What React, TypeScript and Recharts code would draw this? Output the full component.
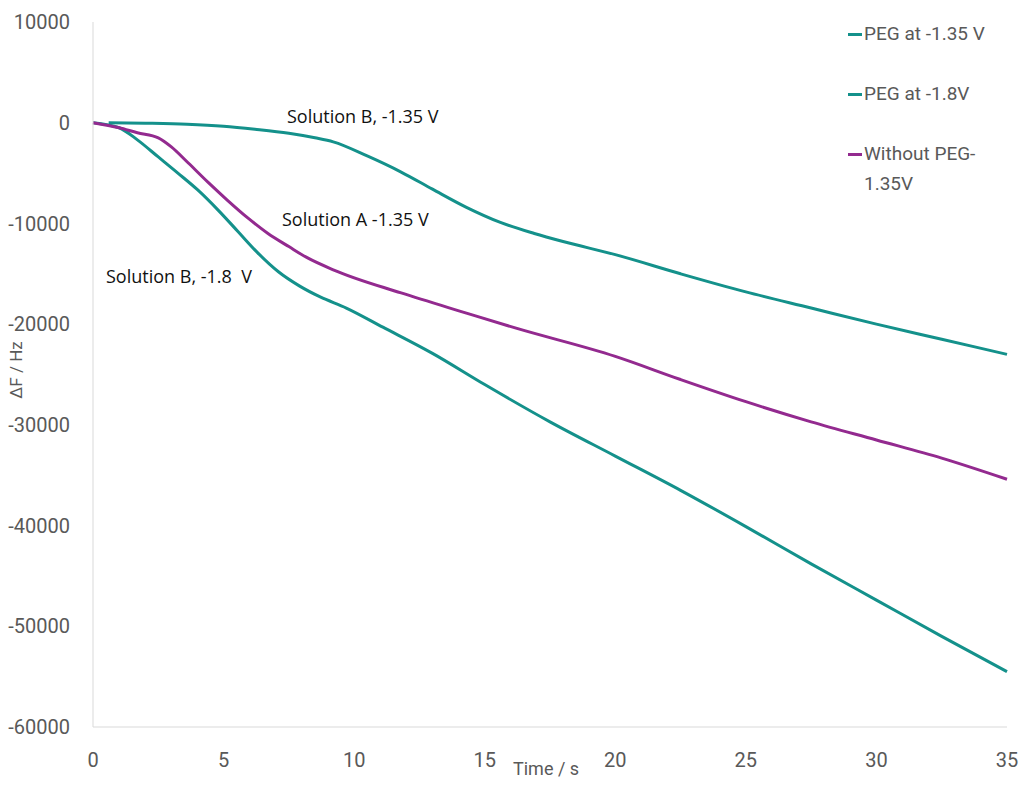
import { Line, LineChart, XAxis, YAxis } from 'recharts'

// Frequency shift vs. time, three deposition runs
const pegLowTime = [0.6, 2, 3.6, 5, 6.2, 7.5, 8.5, 9.2, 10.5, 11.8, 13, 14.3, 15.6, 16.9, 18, 20, 22.5, 25, 27.5, 30, 32.5, 35]
const pegLowShift = [0, -50, -150, -350, -650, -1050, -1500, -1900, -3300, -4900, -6600, -8400, -9900, -11000, -11800, -13100, -15000, -16800, -18400, -20000, -21500, -23000]

const pegHighTime = [0, 1, 1.7, 2.5, 3.25, 4, 4.8, 5.55, 6.3, 7.1, 7.9, 8.7, 9.7, 11.1, 13, 15, 17.5, 20, 22.5, 25, 27.5, 30, 32.5, 35]
const pegHighShift = [0, -500, -1700, -3400, -5000, -6650, -8700, -10800, -12900, -14800, -16200, -17300, -18400, -20300, -22900, -26000, -29700, -33100, -36500, -40100, -43800, -47400, -51000, -54500]

const noPegTime = [0, 1, 1.7, 2.5, 3, 3.65, 4.4, 5.15, 5.95, 6.7, 7.5, 8.2, 9.2, 11.8, 14.3, 16.2, 20, 22.5, 25, 27.5, 30, 32.5, 35]
const noPegShift = [0, -500, -1000, -1500, -2400, -4000, -5900, -7700, -9500, -11000, -12300, -13400, -14600, -16900, -18900, -20400, -23200, -25500, -27700, -29700, -31500, -33300, -35400]

const xTicks = [0, 5, 10, 15, 20, 25, 30, 35]
const yTicks = [10000, 0, -10000, -20000, -30000, -40000, -50000, -60000]

const TEAL = '#14918b'
const PURPLE = '#932a8f'
const GREY = '#595959'
const AXIS = '#d9d9d9'

const zip = (t: number[], v: number[]) => t.map((x, i) => ({ t: x, v: v[i] }))

const series = [
  { name: 'PEG at -1.35 V', color: TEAL, data: zip(pegLowTime, pegLowShift) },
  { name: 'PEG at -1.8V', color: TEAL, data: zip(pegHighTime, pegHighShift) },
  { name: 'Without PEG-\n1.35V', color: PURPLE, data: zip(noPegTime, noPegShift) },
]

const tickFont = { fontSize: 20, fill: GREY, fontFamily: 'Roboto, sans-serif' }
const noteStyle: React.CSSProperties = {
  position: 'absolute',
  fontFamily: '"Open Sans", sans-serif',
  fontSize: 18,
  color: '#111',
  whiteSpace: 'pre',
  lineHeight: '20px',
}

function LegendBox() {
  return (
    <div style={{ position: 'absolute', left: 848, top: 19, width: 176 }}>
      {series.map((s, i) => (
        <div
          key={s.name}
          style={{
            position: 'absolute',
            left: 0,
            top: i * 60,
            display: 'flex',
            alignItems: 'flex-start',
            fontFamily: 'Roboto, sans-serif',
            fontSize: 19,
            lineHeight: '30px',
            color: GREY,
            whiteSpace: 'pre',
          }}
        >
          <span style={{ display: 'inline-block', width: 14, height: 3, background: s.color, marginTop: 14, marginRight: 2 }} />
          <span>{s.name}</span>
        </div>
      ))}
    </div>
  )
}

export default function App() {
  return (
    <div style={{ position: 'absolute', left: 0, top: 0, width: 1024, height: 785, background: '#fff' }}>
      <LineChart width={1024} height={785} margin={{ top: 22, right: 17, bottom: 18, left: 0 }}>
        <XAxis
          dataKey="t"
          type="number"
          domain={[0, 35]}
          ticks={xTicks}
          allowDuplicatedCategory={false}
          height={40}
          stroke={AXIS}
          tickLine={false}
          tickMargin={20}
          tick={tickFont}
        />
        <YAxis
          dataKey="v"
          type="number"
          domain={[-60000, 10000]}
          ticks={yTicks}
          width={93}
          stroke={AXIS}
          tickLine={false}
          tickMargin={17}
          tick={tickFont}
          interval={0}
        />
        {series.map((s) => (
          <Line
            key={s.name}
            name={s.name}
            data={s.data}
            dataKey="v"
            type="monotone"
            stroke={s.color}
            strokeWidth={3}
            dot={false}
            isAnimationActive={false}
          />
        ))}
      </LineChart>

      <LegendBox />

      <div style={{ ...noteStyle, left: 287, top: 106 }}>Solution B, -1.35 V</div>
      <div style={{ ...noteStyle, left: 282, top: 209 }}>Solution A -1.35 V</div>
      <div style={{ ...noteStyle, left: 106, top: 266 }}>Solution B, -1.8  V</div>

      <div
        style={{
          position: 'absolute',
          left: 513,
          top: 758,
          fontFamily: 'Roboto, sans-serif',
          fontSize: 18,
          color: GREY,
        }}
      >
        Time / s
      </div>
      <div
        style={{
          position: 'absolute',
          left: 16,
          top: 370,
          transform: 'translate(-50%, -50%) rotate(-90deg)',
          fontFamily: 'Roboto, sans-serif',
          fontSize: 17,
          color: GREY,
          whiteSpace: 'nowrap',
        }}
      >
        ΔF / Hz
      </div>
    </div>
  )
}
